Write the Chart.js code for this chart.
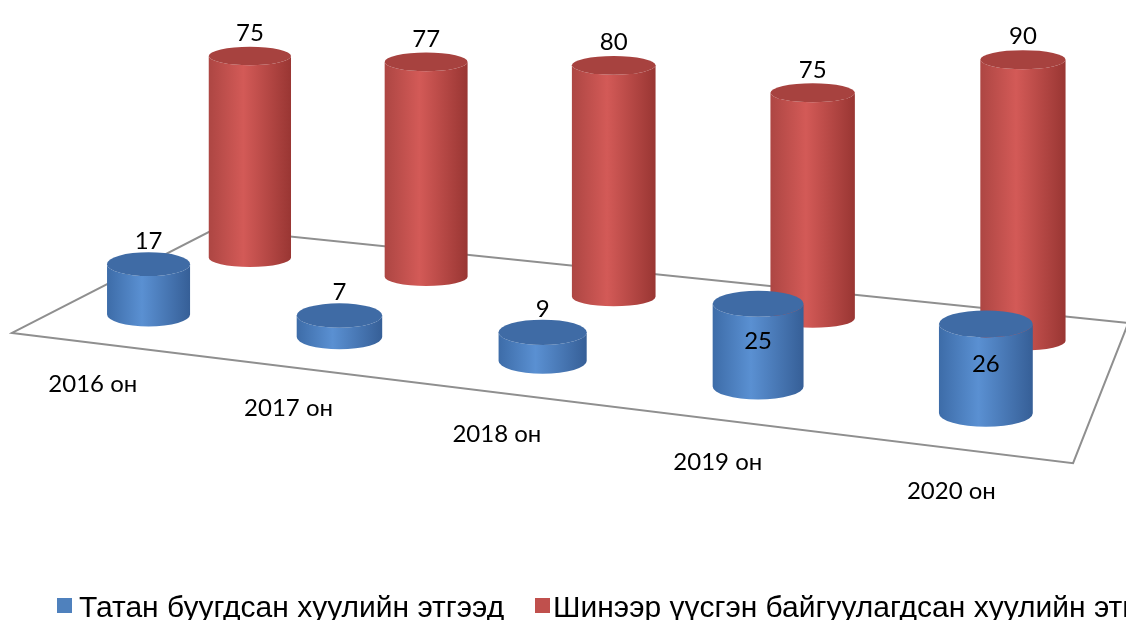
<!DOCTYPE html>
<html>
<head>
<meta charset="utf-8">
<script src="https://cdn.jsdelivr.net/npm/chart.js@4.4.1/dist/chart.umd.min.js"></script>
<style>
  html, body { margin: 0; padding: 0; background: #fff; overflow: hidden; }
  #wrap { position: relative; width: 1126px; height: 620px; overflow: hidden; }
  #legend { position: absolute; left: 0; top: 592px; width: 1126px; height: 30px;
            font-family: "Liberation Sans", Arial, sans-serif; font-size: 30px; line-height: 30px;
            white-space: nowrap; color: #000; }
  #legend .box { position: absolute; top: 6px; width: 15px; height: 15px; }
  #legend .txt { position: absolute; top: 0; }
</style>
</head>
<body>
<div id="wrap">
  <canvas id="chart" width="1126" height="620"></canvas>
  <div id="legend"></div>
</div>
<script>
var years = ["2016 он", "2017 он", "2018 он", "2019 он", "2020 он"];
var dissolved = [17, 7, 9, 25, 26];
var created = [75, 77, 80, 75, 90];
var seriesNames = ["Татан буугдсан хуулийн этгээд", "Шинээр үүсгэн байгуулагдсан хуулийн этгээд"];
var seriesColors = ["#4F81BD", "#C0504D"];

// pseudo 3D floor, as fractions of the chart area
var floor = { fl: [0.0107, 0.537], fr: [0.953, 0.747], bl: [0.191, 0.369], br: [1.002, 0.521] };
var rowDepth = [0.27, 0.8];   // front row (blue), back row (red)

var shades = [
    { edgeL: "#3d6ca8", light: "#5a90d2", edgeR: "#365f97", cap: "#3f6ba5" },
    { edgeL: "#ad4643", light: "#d35a57", edgeR: "#993633", cap: "#a7423f" }
];

function floorPt(a, u, d) {
    function p(k) { return [a.left + floor[k][0] * a.width, a.top + floor[k][1] * a.height]; }
    var fl = p("fl"), fr = p("fr"), bl = p("bl"), br = p("br");
    var fx = fl[0] + (fr[0] - fl[0]) * u, fy = fl[1] + (fr[1] - fl[1]) * u;
    var bx = bl[0] + (br[0] - bl[0]) * u, by = bl[1] + (br[1] - bl[1]) * u;
    return [fx + (bx - fx) * d, fy + (by - fy) * d];
}

function depthU(a, x) {
    var t = ((x - a.left) / a.width - 0.1) / 0.8;
    return 0.08 + 0.82 * t * (1 + 0.133 * t) / 1.133;
}

function cylinder(ctx, cx, by, h, rx, ry, sh) {
    var ty = by - h;
    var g = ctx.createLinearGradient(cx - rx, 0, cx + rx, 0);
    g.addColorStop(0, sh.edgeL);
    g.addColorStop(0.42, sh.light);
    g.addColorStop(1, sh.edgeR);
    ctx.beginPath();
    ctx.moveTo(cx - rx, ty);
    ctx.lineTo(cx - rx, by);
    ctx.ellipse(cx, by, rx, ry, 0, Math.PI, 0, true);
    ctx.lineTo(cx + rx, ty);
    ctx.ellipse(cx, ty, rx, ry, 0, 0, Math.PI, false);
    ctx.closePath();
    ctx.fillStyle = g;
    ctx.fill();
    ctx.beginPath();
    ctx.ellipse(cx, ty, rx, ry, 0, 0, Math.PI * 2);
    ctx.fillStyle = sh.cap;
    ctx.fill();
}

var cylinders3d = {
    id: "cylinders3d",
    beforeDatasetsDraw: function (chart) {
        var ctx = chart.ctx, a = chart.chartArea;
        ctx.save();

        // floor
        var c = [floorPt(a, 0, 0), floorPt(a, 1, 0), floorPt(a, 1, 1), floorPt(a, 0, 1)];
        ctx.beginPath();
        ctx.moveTo(c[0][0], c[0][1]);
        for (var k = 1; k < 4; k++) ctx.lineTo(c[k][0], c[k][1]);
        ctx.closePath();
        ctx.strokeStyle = "#8f8f8f";
        ctx.lineWidth = 2;
        ctx.stroke();

        var labels = [];
        // back row first
        [1, 0].forEach(function (di) {
            var meta = chart.getDatasetMeta(di);
            var d = rowDepth[di];
            meta.data.forEach(function (el, i) {
                var u = depthU(a, el.x);
                var b = floorPt(a, u, d);
                var persp = 0.4916 * (1 + 0.2 * u) * (1 - 0.164 * d);
                var h = (el.base - el.y) * persp;
                var rx = el.width / 2 * (1 + 0.22 * u * (1 - d));
                var ry = rx * (0.2 + 0.12 * (1 - d));
                cylinder(ctx, b[0], b[1], h, rx, ry, shades[di]);
                var val = chart.data.datasets[di].data[i];
                var ly = (di === 0 && h > 65) ? b[1] - h + 0.45 * h : b[1] - h - 23;
                labels.push([String(val), b[0], ly]);
            });
        });

        ctx.fillStyle = "#000";
        ctx.font = "24px Lato";
        ctx.textAlign = "center";
        ctx.textBaseline = "middle";
        labels.forEach(function (l) { ctx.fillText(l[0], l[1], l[2]); });

        // category labels along the front edge of the floor
        var xs = chart.getDatasetMeta(0).data;
        chart.data.labels.forEach(function (lab, i) {
            var u = depthU(a, xs[i].x);
            var p = floorPt(a, u, 0);
            ctx.fillText(lab, p[0] - 3 - 14 * u, p[1] + 41);
        });
        ctx.restore();
        return false;
    }
};

new Chart(document.getElementById("chart").getContext("2d"), {
    type: "bar",
    data: {
        labels: years,
        datasets: [
            { label: seriesNames[0], data: dissolved, backgroundColor: seriesColors[0] },
            { label: seriesNames[1], data: created, backgroundColor: seriesColors[1] }
        ]
    },
    options: {
        responsive: false,
        animation: false,
        devicePixelRatio: 1,
        layout: { padding: 0 },
        datasets: { bar: { grouped: false, categoryPercentage: 1, barPercentage: 0.364 } },
        plugins: { legend: { display: false }, tooltip: { enabled: false } },
        scales: {
            x: { display: false },
            y: { display: false, min: 0, max: 100 }
        }
    },
    plugins: [cylinders3d]
});

// legend
var legend = document.getElementById("legend");
var lx = [[57, 79], [535, 553]];
seriesNames.forEach(function (name, i) {
    var box = document.createElement("span");
    box.className = "box";
    box.style.left = lx[i][0] + "px";
    box.style.background = seriesColors[i];
    var txt = document.createElement("span");
    txt.className = "txt";
    txt.style.left = lx[i][1] + "px";
    txt.textContent = name;
    legend.appendChild(box);
    legend.appendChild(txt);
});
</script>
</body>
</html>
